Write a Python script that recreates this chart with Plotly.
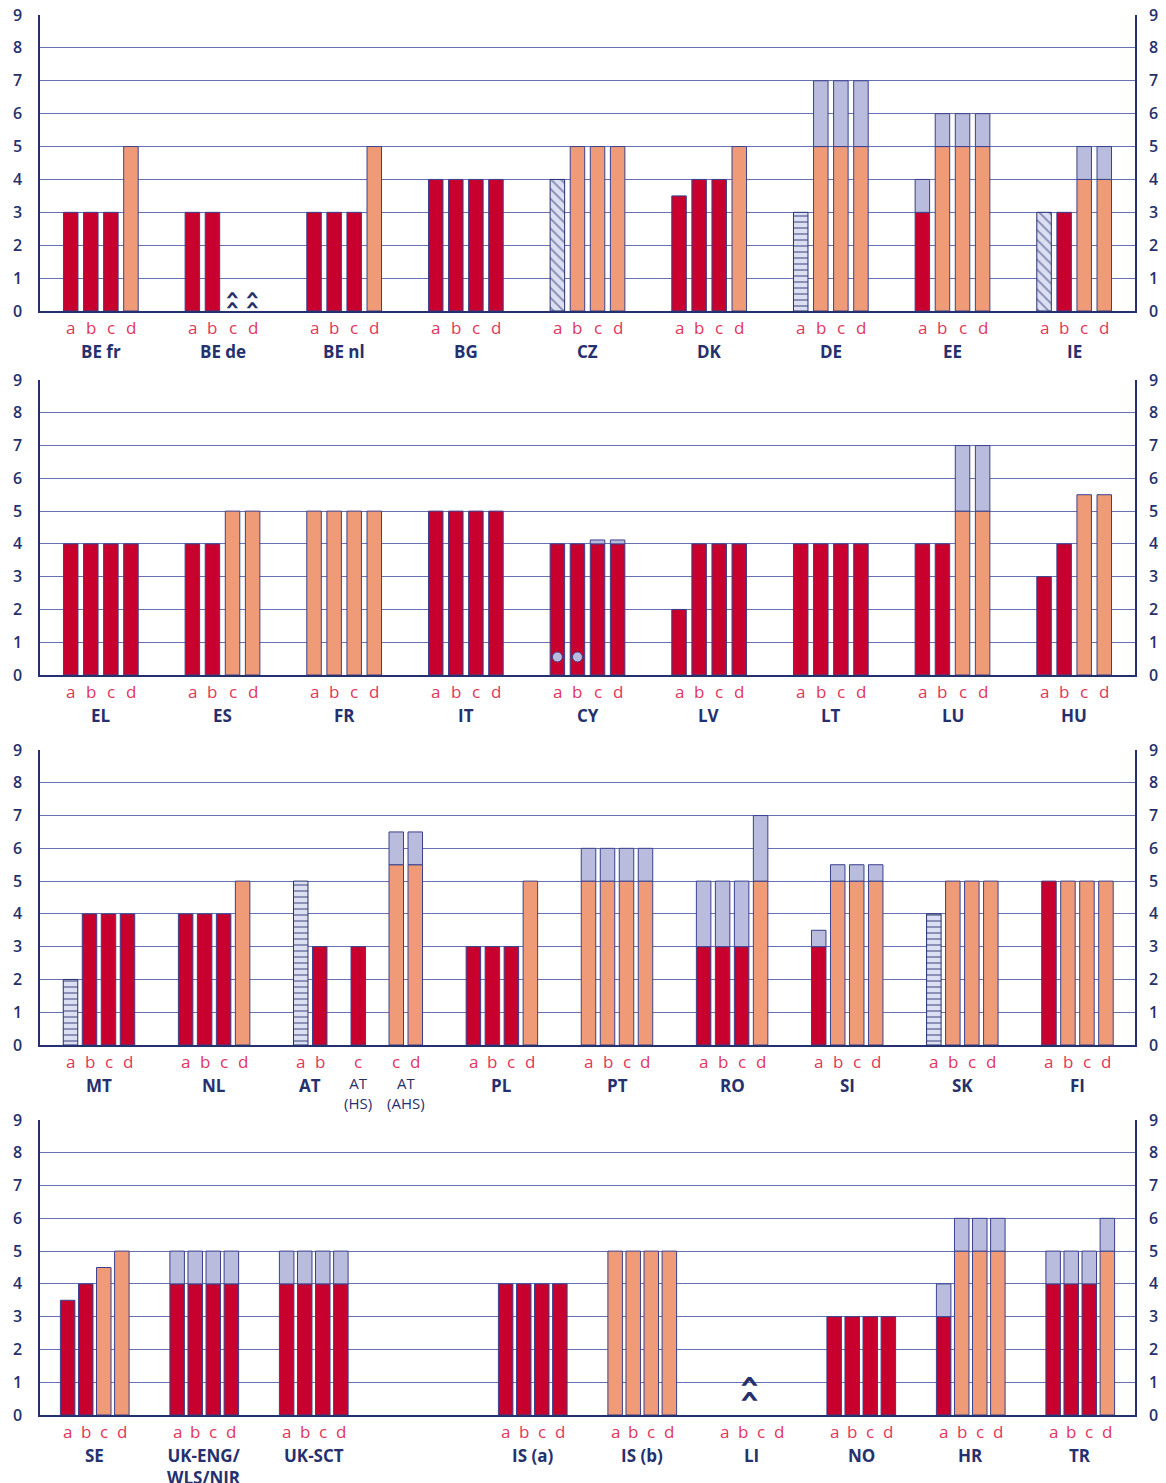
import plotly.graph_objects as go

# ---------------- DATA ----------------
# kinds: R = red, S = salmon, D = diagonal hatch, H = horizontal hatch, ^ = not applicable (chevrons)
p1_groups = ["BE fr", "BE de", "BE nl", "BG", "CZ", "DK", "DE", "EE", "IE"]
p1_letters = ["abcd"] * 9
p1_base = [[3, 3, 3, 5], [3, 3, 0, 0], [3, 3, 3, 5], [4, 4, 4, 4], [4, 5, 5, 5],
           [3.5, 4, 4, 5], [3, 5, 5, 5], [3, 5, 5, 5], [3, 3, 4, 4]]
p1_kind = ["RRRS", "RR^^", "RRRS", "RRRR", "DSSS", "RRRS", "HSSS", "RSSS", "DRSS"]
p1_ext = [[0, 0, 0, 0], [0, 0, 0, 0], [0, 0, 0, 0], [0, 0, 0, 0], [0, 0, 0, 0],
          [0, 0, 0, 0], [0, 2, 2, 2], [1, 1, 1, 1], [0, 0, 1, 1]]

p2_groups = ["EL", "ES", "FR", "IT", "CY", "LV", "LT", "LU", "HU"]
p2_letters = ["abcd"] * 9
p2_base = [[4, 4, 4, 4], [4, 4, 5, 5], [5, 5, 5, 5], [5, 5, 5, 5], [4, 4, 4, 4],
           [2, 4, 4, 4], [4, 4, 4, 4], [4, 4, 5, 5], [3, 4, 5.5, 5.5]]
p2_kind = ["RRRR", "RRSS", "SSSS", "RRRR", "RRRR", "RRRR", "RRRR", "RRSS", "RRSS"]
p2_ext = [[0, 0, 0, 0], [0, 0, 0, 0], [0, 0, 0, 0], [0, 0, 0, 0], [0, 0, 0.12, 0.12],
          [0, 0, 0, 0], [0, 0, 0, 0], [0, 0, 2, 2], [0, 0, 0, 0]]
p2_dots = [("CY", "a"), ("CY", "b")]

p3_groups = ["MT", "NL", "AT", "AT<br>(HS)", "AT<br>(AHS)", "PL", "PT", "RO", "SI", "SK", "FI"]
p3_letters = ["abcd", "abcd", "ab", "c", "cd", "abcd", "abcd", "abcd", "abcd", "abcd", "abcd"]
p3_base = [[2, 4, 4, 4], [4, 4, 4, 5], [5, 3], [3], [5.5, 5.5], [3, 3, 3, 5], [5, 5, 5, 5],
           [3, 3, 3, 5], [3, 5, 5, 5], [4, 5, 5, 5], [5, 5, 5, 5]]
p3_kind = ["HRRR", "RRRS", "HR", "R", "SS", "RRRS", "SSSS", "RRRS", "RSSS", "HSSS", "RSSS"]
p3_ext = [[0, 0, 0, 0], [0, 0, 0, 0], [0, 0], [0], [1, 1], [0, 0, 0, 0], [1, 1, 1, 1],
          [2, 2, 2, 2], [0.5, 0.5, 0.5, 0.5], [0, 0, 0, 0], [0, 0, 0, 0]]
p3_minor = ["AT<br>(HS)", "AT<br>(AHS)"]

p4_groups = ["SE", "UK-ENG/<br>WLS/NIR", "UK-SCT", "IS (a)", "IS (b)", "LI", "NO", "HR", "TR"]
p4_letters = ["abcd"] * 9
p4_base = [[3.5, 4, 4.5, 5], [4, 4, 4, 4], [4, 4, 4, 4], [4, 4, 4, 4], [5, 5, 5, 5],
           [0, 0, 0, 0], [3, 3, 3, 3], [3, 5, 5, 5], [4, 4, 4, 5]]
p4_kind = ["RRSS", "RRRR", "RRRR", "RRRR", "SSSS", "....", "RRRR", "RSSS", "RRRS"]
p4_ext = [[0, 0, 0, 0], [1, 1, 1, 1], [1, 1, 1, 1], [0, 0, 0, 0], [0, 0, 0, 0],
          [0, 0, 0, 0], [0, 0, 0, 0], [1, 1, 1, 1], [1, 1, 1, 1]]
p4_na_center = ["LI"]

y_ticks = [0, 1, 2, 3, 4, 5, 6, 7, 8, 9]

# ---------------- LAYOUT / STYLE ----------------
RED = "#C8002D"
SALMON = "#F09B78"
LAV = "#B9BCDD"
HATCHBG = "#DCDFF1"
NAVY = "#25306E"
OUTLINE = "#3A418E"
GRID = "#6770B2"
LETTER = "#E2355B"
FONT = "Open Sans"
CHEV = "\u2039"  # single chevron, rotated to point up

PAGE_OFF = 8  # default page body margin
W, H = 1166 - PAGE_OFF, 1483 - PAGE_OFF
ML, MR = 40 - PAGE_OFF, 1166 - 1135
MT_ = 15 - PAGE_OFF
MB = H - (1415 - PAGE_OFF)
plot_h = H - MT_ - MB
panel_px = [(15, 311), (380, 675), (750, 1045), (1120, 1415)]

SPACING = 0.165
OFF = {"a": -1.5, "b": -0.5, "c": 0.5, "d": 1.5}

panels = [
    dict(groups=p1_groups, letters=p1_letters, base=p1_base, kind=p1_kind, ext=p1_ext,
         centers=[i + 0.5 for i in range(9)], xr=[0, 9], ppu=1095 / 9, dots=[], na=[], minor=[]),
    dict(groups=p2_groups, letters=p2_letters, base=p2_base, kind=p2_kind, ext=p2_ext,
         centers=[i + 0.5 for i in range(9)], xr=[0, 9], ppu=1095 / 9, dots=p2_dots, na=[], minor=[]),
    dict(groups=p3_groups, letters=p3_letters, base=p3_base, kind=p3_kind, ext=p3_ext,
         centers=[0.5, 1.5, 2.5, 2.67, 3.0, 4.0, 5.0, 6.0, 7.0, 8.0, 9.0], xr=[-0.0126, 9.5],
         ppu=115.1, dots=[], na=[], minor=p3_minor),
    dict(groups=p4_groups, letters=p4_letters, base=p4_base, kind=p4_kind, ext=p4_ext,
         centers=[0.5, 1.5, 2.5, 4.5, 5.5, 6.5, 7.5, 8.5, 9.5], xr=[0, 10],
         ppu=1095 / 10, dots=[], na=p4_na_center, minor=[]),
]

fig = go.Figure()
annotations = []
layout_axes = {}


def chevron(xa, ya, x, shift, size):
    return dict(x=x, y=0, xref=xa, yref=ya, text=CHEV, showarrow=False, textangle=90,
                yanchor="middle", xanchor="center", yshift=shift,
                font=dict(family="DejaVu Sans", size=size, color=NAVY, weight="bold"))


for pi, P in enumerate(panels):
    n = pi + 1
    xa = "x" if n == 1 else f"x{n}"
    ya = "y" if n == 1 else f"y{n}"
    yr_id = f"y{n + 4}"
    top, bot = panel_px[pi]
    dom = [1 - (bot - 15) / plot_h, 1 - (top - 15) / plot_h]
    bw = 14.5 / P["ppu"]

    bars = {k: ([], []) for k in "RSDH"}
    ext_x, ext_y, ext_b = [], [], []
    for gi, g in enumerate(P["groups"]):
        c = P["centers"][gi]
        pos = [c + OFF[L] * SPACING for L in P["letters"][gi]]
        for j, L in enumerate(P["letters"][gi]):
            k = P["kind"][gi][j]
            v = P["base"][gi][j]
            if k in bars:
                bars[k][0].append(pos[j])
                bars[k][1].append(v)
            elif k == "^":
                annotations.append(chevron(xa, ya, pos[j], 16, 24))
                annotations.append(chevron(xa, ya, pos[j], 6, 24))
            e = P["ext"][gi][j]
            if e:
                ext_x.append(pos[j]); ext_y.append(e); ext_b.append(v)
            annotations.append(dict(x=pos[j], y=0, xref=xa, yref=ya, text=L, showarrow=False,
                                    yshift=-16, yanchor="middle",
                                    font=dict(family=FONT, size=17, color=LETTER)))
        lx = sum(pos) / len(pos)
        if g in P["minor"]:
            annotations.append(dict(x=lx, y=0, xref=xa, yref=ya, text=g, showarrow=False,
                                    yshift=-26, yanchor="top",
                                    font=dict(family=FONT, size=15, color=NAVY)))
        else:
            annotations.append(dict(x=lx, y=0, xref=xa, yref=ya, text="<b>" + g + "</b>",
                                    showarrow=False, yshift=-27, yanchor="top",
                                    font=dict(family=FONT, size=17, color=NAVY)))
        if g in P["na"]:
            annotations.append(chevron(xa, ya, c, 33, 36))
            annotations.append(chevron(xa, ya, c, 18, 36))
        for (dg, dl) in P["dots"]:
            if dg == g:
                fig.add_trace(go.Scatter(x=[c + OFF[dl] * SPACING], y=[0.55], xaxis=xa, yaxis=ya,
                                         mode="markers", showlegend=False, hoverinfo="skip",
                                         marker=dict(size=10, color=LAV, line=dict(color=OUTLINE, width=1))))

    line = dict(color=OUTLINE, width=1)
    fig.add_trace(go.Bar(x=bars["R"][0], y=bars["R"][1], width=bw, xaxis=xa, yaxis=ya,
                         marker=dict(color=RED, line=line), showlegend=False))
    fig.add_trace(go.Bar(x=bars["S"][0], y=bars["S"][1], width=bw, xaxis=xa, yaxis=ya,
                         marker=dict(color=SALMON, line=line), showlegend=False))
    fig.add_trace(go.Bar(x=bars["D"][0], y=bars["D"][1], width=bw, xaxis=xa, yaxis=ya,
                         marker=dict(color=HATCHBG, line=dict(color=NAVY, width=1),
                                     pattern=dict(shape="\\", fgcolor=NAVY, bgcolor=HATCHBG,
                                                  size=7, solidity=0.25)), showlegend=False))
    fig.add_trace(go.Bar(x=bars["H"][0], y=bars["H"][1], width=bw, xaxis=xa, yaxis=ya,
                         marker=dict(color=HATCHBG, line=dict(color=NAVY, width=1),
                                     pattern=dict(shape="-", fgcolor=NAVY, bgcolor=HATCHBG,
                                                  size=6, solidity=0.3)), showlegend=False))
    fig.add_trace(go.Bar(x=ext_x, y=ext_y, base=ext_b, width=bw, xaxis=xa, yaxis=ya,
                         marker=dict(color=LAV, line=line), showlegend=False))
    # right-side axis dummy trace
    fig.add_trace(go.Scatter(x=[P["centers"][0]], y=[0], xaxis=xa, yaxis=yr_id, mode="markers",
                             marker=dict(opacity=0), showlegend=False, hoverinfo="skip"))

    xkey = "xaxis" if n == 1 else f"xaxis{n}"
    ykey = "yaxis" if n == 1 else f"yaxis{n}"
    layout_axes[xkey] = dict(domain=[0, 1], range=P["xr"], anchor=ya, showgrid=False,
                             zeroline=False, showticklabels=False, ticks="", automargin=False,
                             showline=True, linecolor=NAVY, linewidth=2, fixedrange=True)
    tickfont = dict(family=FONT, size=16, color=NAVY, weight=600)
    layout_axes[ykey] = dict(domain=dom, range=[0, 9], anchor=xa, tickvals=y_ticks,
                             showgrid=True, gridcolor=GRID, gridwidth=1, zeroline=False,
                             showline=True, linecolor=NAVY, linewidth=1.5, mirror=True,
                             ticks="", tickfont=tickfont, ticklabelstandoff=13, automargin=False,
                             ticklabeloverflow="allow")
    layout_axes[f"yaxis{n + 4}"] = dict(overlaying=ya, side="right", range=[0, 9], anchor=xa,
                                        tickvals=y_ticks, showgrid=False, zeroline=False,
                                        showline=False, ticks="", tickfont=tickfont,
                                        ticklabelstandoff=13, automargin=False,
                                        ticklabeloverflow="allow")

fig.update_layout(
    width=W, height=H,
    margin=dict(l=ML, r=MR, t=MT_, b=MB, autoexpand=False),
    paper_bgcolor="white", plot_bgcolor="white",
    barmode="overlay", showlegend=False,
    annotations=annotations,
    **layout_axes,
)

fig.write_html("out.html")
